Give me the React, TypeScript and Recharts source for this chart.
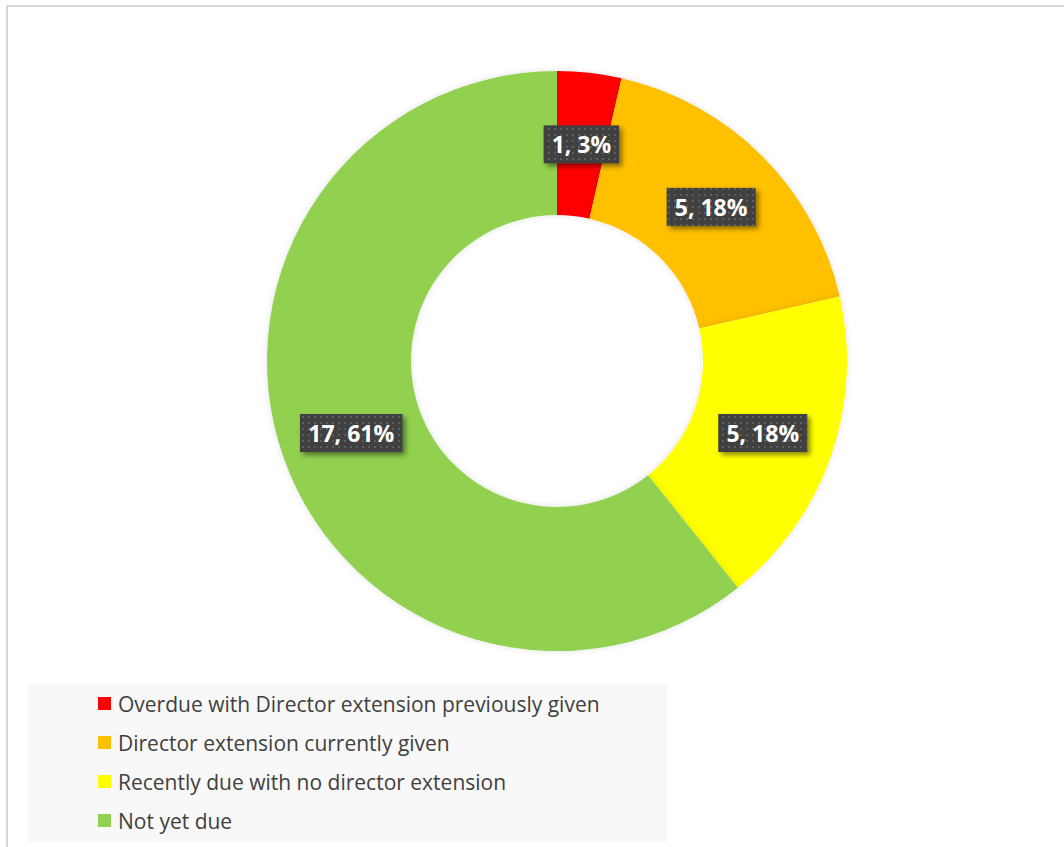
import React from "react";
import { PieChart, Pie, Cell, Legend } from "recharts";

const categories = [
  "Overdue with Director extension previously given",
  "Director extension currently given",
  "Recently due with no director extension",
  "Not yet due",
];
const counts = [1, 5, 5, 17];
const percentLabels = ["3%", "18%", "18%", "61%"];
const colors = ["#FF0000", "#FFC000", "#FFFF00", "#92D050"];

const data = categories.map((name, i) => ({ name, value: counts[i], pct: percentLabels[i] }));

const RAD = Math.PI / 180;

const renderLabel = (props: any) => {
  const { cx, cy, midAngle, innerRadius, outerRadius, index } = props;
  const r = (innerRadius + outerRadius) / 2;
  const x = cx + r * Math.cos(-midAngle * RAD);
  const y = cy + r * Math.sin(-midAngle * RAD);
  const text = `${counts[index]}, ${percentLabels[index]}`;
  const w = 13.5 * text.length + 8;
  const h = 38;
  return (
    <g>
      <rect x={x - w / 2} y={y - h / 2} width={w} height={h} fill="#404040" filter="url(#lblShadow)" />
      <rect x={x - w / 2} y={y - h / 2} width={w} height={h} fill="url(#dots)" />
      <text
        x={x}
        y={y}
        textAnchor="middle"
        dominantBaseline="central"
        fill="#FFFFFF"
        fontFamily="'Open Sans', sans-serif"
        fontWeight={700}
        fontSize={23}
      >
        {text}
      </text>
    </g>
  );
};

const renderLegend = () => (
  <div
    style={{
      width: 639,
      height: 158,
      background: "#F8F8F8",
      boxSizing: "border-box",
      paddingTop: 0,
      paddingLeft: 70,
    }}
  >
    {categories.map((c, i) => (
      <div
        key={c}
        style={{
          display: "flex",
          alignItems: "center",
          height: 39,
          fontFamily: "'Open Sans', sans-serif",
          fontSize: 21,
          color: "#404040",
          whiteSpace: "nowrap",
        }}
      >
        <span
          style={{
            display: "inline-block",
            width: 13,
            height: 13,
            background: colors[i],
            marginRight: 7,
          }}
        />
        <span>{c}</span>
      </div>
    ))}
  </div>
);

export default function App() {
  return (
    <div
      style={{
        position: "absolute",
        left: 0,
        top: 0,
        width: 1064,
        height: 847,
        overflow: "hidden",
        background: "#FFFFFF",
      }}
    >
      <div
        style={{
          position: "absolute",
          left: 6,
          top: 5,
          width: 1100,
          height: 900,
          border: "2px solid #D6D6D6",
          boxSizing: "border-box",
        }}
      />
      <PieChart
        width={1064}
        height={847}
        margin={{ top: 0, right: 0, bottom: 0, left: 0 }}
        style={{ position: "absolute", left: 0, top: 0 }}
      >
        <defs>
          <pattern id="dots" x="0" y="0" width="6" height="6" patternUnits="userSpaceOnUse">
            <rect x="2" y="2" width="2" height="2" fill="#5E5E5E" />
          </pattern>
          <filter id="lblShadow" x="-20%" y="-30%" width="150%" height="180%">
            <feDropShadow dx="3" dy="3" stdDeviation="2.5" floodColor="#000000" floodOpacity="0.45" />
          </filter>
          <filter id="pieShadow" x="-10%" y="-10%" width="120%" height="120%">
            <feDropShadow dx="0" dy="0" stdDeviation="3" floodColor="#000000" floodOpacity="0.12" />
          </filter>
        </defs>
        <Pie
          data={data}
          dataKey="value"
          nameKey="name"
          cx={557}
          cy={361}
          innerRadius={146}
          outerRadius={290}
          startAngle={90}
          endAngle={-270}
          stroke="none"
          label={renderLabel}
          labelLine={false}
          isAnimationActive={false}
          style={{ filter: "url(#pieShadow)" }}
        >
          {data.map((d, i) => (
            <Cell key={d.name} fill={colors[i]} stroke="none" />
          ))}
        </Pie>
        <Legend
          content={renderLegend}
          wrapperStyle={{ position: "absolute", left: 28, top: 684, width: 639, height: 158 }}
        />
      </PieChart>
    </div>
  );
}
